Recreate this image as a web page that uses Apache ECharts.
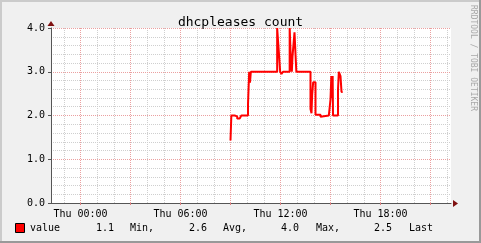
<!DOCTYPE html>
<html>
<head>
<meta charset="utf-8">
<script src="https://cdn.jsdelivr.net/npm/echarts@6/dist/echarts.min.js"></script>
<style>
html,body{margin:0;padding:0;background:#F0F0F0;}
#chart{width:481px;height:243px;}
</style>
</head>
<body>
<div id="chart"></div>
<script>
// ---- data (hours since Thu 00:00) ----
const titleText = 'dhcpleases count';
const seriesName = 'value';
const times = [9.0, 9.05, 9.25, 9.4, 9.55, 9.65, 10.05, 10.12, 10.17, 10.22, 11.1, 11.16, 11.8, 11.9, 11.98, 12.06, 12.15, 12.55, 12.62, 12.68, 12.72, 12.84, 12.95, 13.8, 13.86, 13.9, 13.96, 14.1, 14.4, 14.5, 14.9, 15.0, 15.05, 15.1, 15.13, 15.15, 15.45, 15.5, 15.6, 15.66, 15.73];
const values = [1.43, 2.0, 1.98, 1.93, 1.95, 2.0, 2.25, 3.0, 2.75, 3.0, 2.97, 3.0, 4.0, 3.45, 3.0, 2.95, 3.0, 4.0, 3.28, 3.0, 3.35, 3.9, 3.0, 2.15, 2.05, 2.48, 2.76, 2.02, 1.97, 2.0, 1.97, 2.37, 2.9, 2.4, 2.9, 2.0, 2.59, 3.0, 2.9, 2.54, 2.54];
const xMin = -1.77, xMax = 22.23;
const majorHours = [0, 3, 6, 9, 12, 15, 18, 21];
const minorHours = [-1, 0, 1, 2, 3, 4, 5, 6, 7, 8, 9, 10, 11, 12, 13, 14, 15, 16, 17, 18, 19, 20, 21, 22];
const labelHours = [0, 6, 12, 18];
const dayName = 'Thu';
const statValues = ['1.1', '2.6', '4.0', '2.5'];
const statLabels = ['Min,', 'Avg,', 'Max,', 'Last'];
const watermark = 'RRDTOOL / TOBI OETIKER';

const FONT = 'DejaVu Sans Mono';
const chart = echarts.init(document.getElementById('chart'), null, {renderer: 'canvas'});

const pad = n => (n < 10 ? '0' : '') + n;

const legendGraphics = [
  {type: 'rect', left: 15, top: 223, shape: {width: 9, height: 9}, style: {fill: '#FF0000', stroke: '#000', lineWidth: 1}}
  ,{type: 'text', left: 30, top: 223, style: {text: seriesName, font: '10px "' + FONT + '"', fill: '#000'}}
];
const numX = [96, 189, 281, 374];
const labX = [130, 223, 316, 409];
statValues.forEach((v, i) => {
  legendGraphics.push({type: 'text', left: numX[i], top: 223, style: {text: v, font: '10px "' + FONT + '"', fill: '#000'}});
  legendGraphics.push({type: 'text', left: labX[i], top: 223, style: {text: statLabels[i], font: '10px "' + FONT + '"', fill: '#000'}});
});

const option = {
  backgroundColor: '#F0F0F0',
  animation: false,
  title: {
    text: titleText, left: 'center', top: 11,
    textStyle: {fontFamily: FONT, fontSize: 13, fontWeight: 'normal', color: '#000'}
  },
  grid: {left: 51, right: 30, top: 28, bottom: 40, show: true, backgroundColor: '#FFFFFF', borderWidth: 0},
  xAxis: [{
    type: 'value', min: xMin, max: xMax,
    axisLine: {show: true, onZero: false, lineStyle: {color: '#555', width: 1}},
    axisTick: {show: true, customValues: majorHours, length: 2, lineStyle: {color: '#E08080'}},
    axisLabel: {customValues: labelHours, margin: 6, fontFamily: FONT, fontSize: 10, color: '#000',
      formatter: v => dayName + ' ' + pad(Math.round(v)) + ':00'},
    splitLine: {show: true, lineStyle: {color: '#EBA0A0', type: 'dotted', width: 1}},
    z: 3
  }, {
    type: 'value', min: xMin, max: xMax, position: 'bottom',
    axisLine: {show: false, onZero: false}, axisLabel: {show: false},
    axisTick: {show: false, customValues: minorHours},
    splitLine: {show: true, lineStyle: {color: '#CFCFCF', type: 'dotted', width: 1}},
    z: 1
  }],
  yAxis: {
    type: 'value', min: 0, max: 4, interval: 1,
    axisLine: {show: true, onZero: false, lineStyle: {color: '#555', width: 1}},
    axisTick: {show: true, length: 3, lineStyle: {color: '#555'}},
    axisLabel: {margin: 6, fontFamily: FONT, fontSize: 10, color: '#000', formatter: v => v.toFixed(1)},
    splitLine: {show: true, lineStyle: {color: '#EBA0A0', type: 'dotted', width: 1}},
    minorSplitLine: {show: true, lineStyle: {color: '#CFCFCF', type: 'dotted', width: 1}},
    minorTick: {show: false, splitNumber: 5},
    z: 3
  },
  series: [{
    name: seriesName, type: 'line', step: 'end', xAxisIndex: 0,
    data: times.map((t, i) => [t, values[i]]),
    showSymbol: false, symbol: 'none',
    lineStyle: {color: '#FF0000', width: 2},
    z: 5
  }],
  graphic: [
    {type: 'rect', left: 0, top: 0, shape: {width: 481, height: 2}, style: {fill: '#CBCBCB'}, silent: true},
    {type: 'rect', left: 0, top: 0, shape: {width: 2, height: 243}, style: {fill: '#CBCBCB'}, silent: true},
    {type: 'rect', left: 479, top: 0, shape: {width: 2, height: 243}, style: {fill: '#999999'}, silent: true},
    {type: 'rect', left: 0, top: 241, shape: {width: 481, height: 2}, style: {fill: '#999999'}, silent: true},
    {type: 'polygon', shape: {points: [[453, 200], [458, 203.5], [453, 207]]}, style: {fill: '#7F1010'}, z: 10},
    {type: 'polygon', shape: {points: [[47.5, 26], [51, 21], [54.5, 26]]}, style: {fill: '#7F1010'}, z: 10},
    {type: 'text', x: 477, y: 5, rotation: -Math.PI / 2,
      style: {text: watermark, font: '8px "' + FONT + '"', fill: '#A8A8A8', verticalAlign: 'top', align: 'left'}}
  ].concat(legendGraphics)
};
chart.setOption(option);
</script>
</body>
</html>
